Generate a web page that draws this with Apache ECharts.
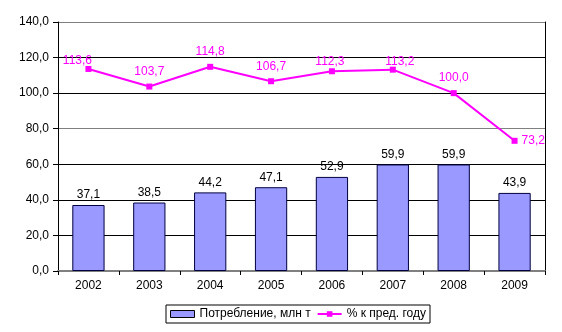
<!DOCTYPE html>
<html><head><meta charset="utf-8">
<script src="https://cdn.jsdelivr.net/npm/echarts@6/dist/echarts.min.js"></script>
<style>html,body{margin:0;padding:0;background:#fff}#c{width:562px;height:332px}</style>
</head><body><div id="c"></div>
<script>
const categories = ['2002','2003','2004','2005','2006','2007','2008','2009'];
const consumption = [37.1, 38.5, 44.2, 47.1, 52.9, 59.9, 59.9, 43.9];
const pctPrevYear = [113.6, 103.7, 114.8, 106.7, 112.3, 113.2, 100.0, 73.2];
const yTicks = [0, 20, 40, 60, 80, 100, 120, 140];
const seriesNames = ['Потребление, млн т', '% к пред. году'];

const fmt = v => v.toFixed(1).replace('.', ',');
const font = 'Liberation Sans, Arial, sans-serif';
const lineLabelOverrides = {
  0: {position: 'top', offset: [-11, 7]},
  4: {position: 'top', offset: [-2, 5]},
  5: {position: 'top', offset: [7, 7]},
  7: {position: 'right', distance: 4}
};

const chart = echarts.init(document.getElementById('c'), null, {renderer: 'canvas'});
chart.setOption({
  animation: false,
  textStyle: {fontFamily: font},
  grid: {left: 58, right: 17, top: 22, bottom: 61, show: false},
  legend: {
    bottom: 9, left: 166,
    itemGap: 6, itemWidth: 24, itemHeight: 7,
    borderColor: '#000', borderWidth: 1, padding: [3, 4], borderRadius: 0,
    textStyle: {fontFamily: font, fontSize: 12, color: '#000'},
    data: [
      {name: seriesNames[0], icon: 'rect', itemStyle: {borderColor: '#000', borderWidth: 1}},
      {name: seriesNames[1]}
    ]
  },
  xAxis: {
    type: 'category', data: categories, boundaryGap: true,
    axisLine: {lineStyle: {color: '#808080', width: 2}},
    axisTick: {show: true, length: 4, lineStyle: {color: '#000'}},
    axisLabel: {color: '#000', fontSize: 12, fontFamily: font, margin: 9}
  },
  yAxis: [{
    type: 'value', min: yTicks[0], max: yTicks[yTicks.length - 1], interval: 20,
    axisLine: {show: true, lineStyle: {color: '#000'}},
    axisTick: {show: true, length: 5, lineStyle: {color: '#000'}},
    axisLabel: {color: '#000', fontSize: 12, fontFamily: font, margin: 9, formatter: v => fmt(v)},
    splitLine: {show: true, lineStyle: {color: ['#808080','#000','#000','#000','#808080','#000','#000','#808080'], width: 1}}
  }, {
    type: 'value', min: yTicks[0], max: yTicks[yTicks.length - 1], interval: 20, position: 'right',
    axisLine: {show: true, lineStyle: {color: '#000'}},
    axisTick: {show: false}, axisLabel: {show: false}, splitLine: {show: false}
  }],
  series: [{
    name: seriesNames[0], type: 'bar', data: consumption,
    barWidth: '53%',
    itemStyle: {color: '#9999FF', borderColor: '#000040', borderWidth: 1},
    label: {show: true, position: 'top', color: '#000', fontSize: 12, fontFamily: font, distance: 4, formatter: p => fmt(p.value)}
  }, {
    name: seriesNames[1], type: 'line',
    data: pctPrevYear.map((v, i) => lineLabelOverrides[i] ? {value: v, label: lineLabelOverrides[i]} : v),
    symbol: 'rect', symbolSize: 6,
    lineStyle: {color: '#FF00FF', width: 2},
    itemStyle: {color: '#FF00FF'},
    label: {show: true, position: 'top', color: '#FF00FF', fontSize: 12, fontFamily: font, distance: 6, formatter: p => fmt(p.value)}
  }]
});
</script></body></html>
